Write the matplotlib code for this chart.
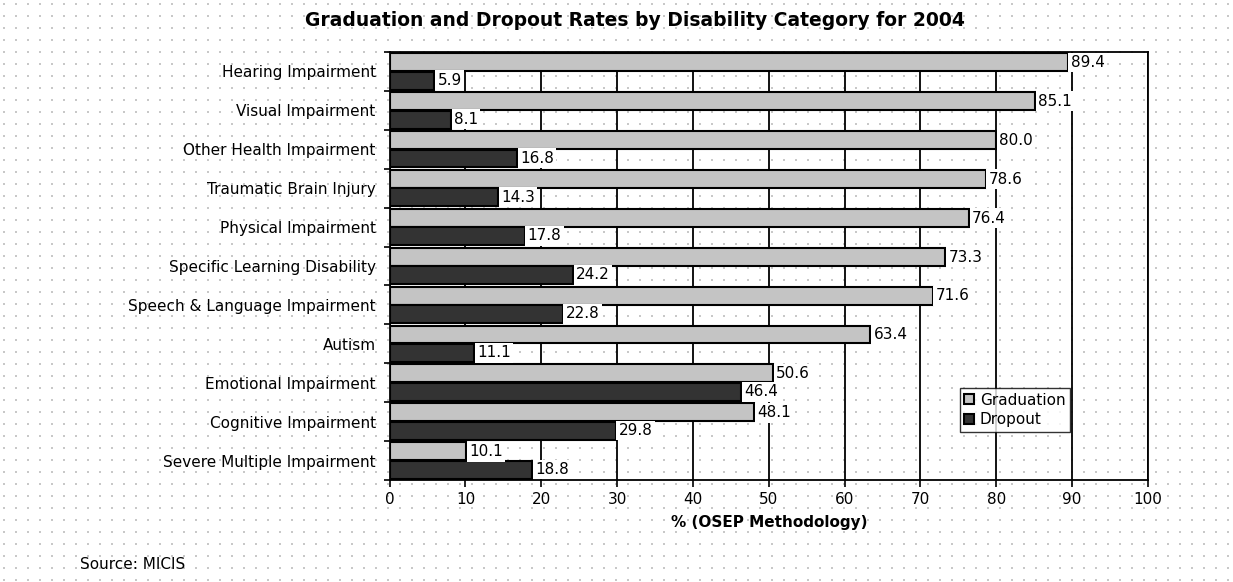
import numpy as np
import matplotlib
matplotlib.use("Agg")
import matplotlib.pyplot as plt

categories = ["Hearing Impairment", "Visual Impairment", "Other Health Impairment",
              "Traumatic Brain Injury", "Physical Impairment", "Specific Learning Disability",
              "Speech & Language Impairment", "Autism", "Emotional Impairment",
              "Cognitive Impairment", "Severe Multiple Impairment"]
graduation = [89.4, 85.1, 80.0, 78.6, 76.4, 73.3, 71.6, 63.4, 50.6, 48.1, 10.1]
dropout = [5.9, 8.1, 16.8, 14.3, 17.8, 24.2, 22.8, 11.1, 46.4, 29.8, 18.8]

plt.rcParams['font.family'] = ['DejaVu Sans']
fs = 11

fig = plt.figure(figsize=(12.33, 5.82), dpi=100)

# dotted background pattern
bg = fig.add_axes([0, 0, 1, 1], zorder=-10)
gx, gy = np.meshgrid(np.arange(4, 1233, 12), np.arange(4, 582, 12))
bg.scatter(gx.ravel(), gy.ravel(), s=0.6, color="#c8c8c8", marker="s", linewidths=0)
bg.set_xlim(0, 1233)
bg.set_ylim(582, 0)
bg.axis("off")

ax = fig.add_axes([0.316, 0.175, 0.615, 0.736])
ax.patch.set_alpha(0)

y = np.arange(len(categories))
h = 0.46
ax.barh(y - h / 2 - 0.01, graduation, height=h, color="#c4c4c4", edgecolor="black",
        linewidth=1.5, label="Graduation", zorder=3)
ax.barh(y + h / 2 + 0.01, dropout, height=h, color="#333333", edgecolor="black",
        linewidth=1.5, label="Dropout", zorder=3)

for i in range(len(categories)):
    ax.text(graduation[i] + 0.4, y[i] - h / 2, "%.1f" % graduation[i], va="center",
            ha="left", fontsize=fs, zorder=4,
            bbox=dict(facecolor="white", edgecolor="none", pad=1.6))
    ax.text(dropout[i] + 0.4, y[i] + h / 2, "%.1f" % dropout[i], va="center",
            ha="left", fontsize=fs, zorder=4,
            bbox=dict(facecolor="white", edgecolor="none", pad=1.6))

ax.set_xlim(0, 100)
ax.set_ylim(len(categories) - 0.5, -0.5)
ax.set_xticks(range(0, 101, 10))
ax.set_yticks(y)
ax.set_yticks(np.arange(len(categories) + 1) - 0.5, minor=True)
ax.set_yticklabels(categories, fontsize=fs)
ax.tick_params(axis="x", labelsize=fs, direction="out", length=5, width=1.2)
ax.tick_params(axis="y", which="major", length=0, pad=10)
ax.tick_params(axis="y", which="minor", length=4, width=1.2, direction="out")
ax.grid(axis="x", color="black", linewidth=1.3, zorder=0)
for s in ax.spines.values():
    s.set_linewidth(1.3)
ax.set_xlabel("% (OSEP Methodology)", fontsize=fs, fontweight="bold", labelpad=6)

fig.text(0.515, 0.965, "Graduation and Dropout Rates by Disability Category for 2004",
         fontsize=13.5, fontweight="bold", ha="center", va="center")

leg = ax.legend(loc="upper left", bbox_to_anchor=(0.752, 0.215), fontsize=fs,
                frameon=True, fancybox=False, edgecolor="black", handlelength=0.6,
                handleheight=0.6, handletextpad=0.4, borderpad=0.3, labelspacing=0.3,
                borderaxespad=0)
leg.get_frame().set_linewidth(1.0)

fig.text(0.065, 0.022, "Source: MICIS", fontsize=fs)

plt.savefig("out.png", dpi=100)
